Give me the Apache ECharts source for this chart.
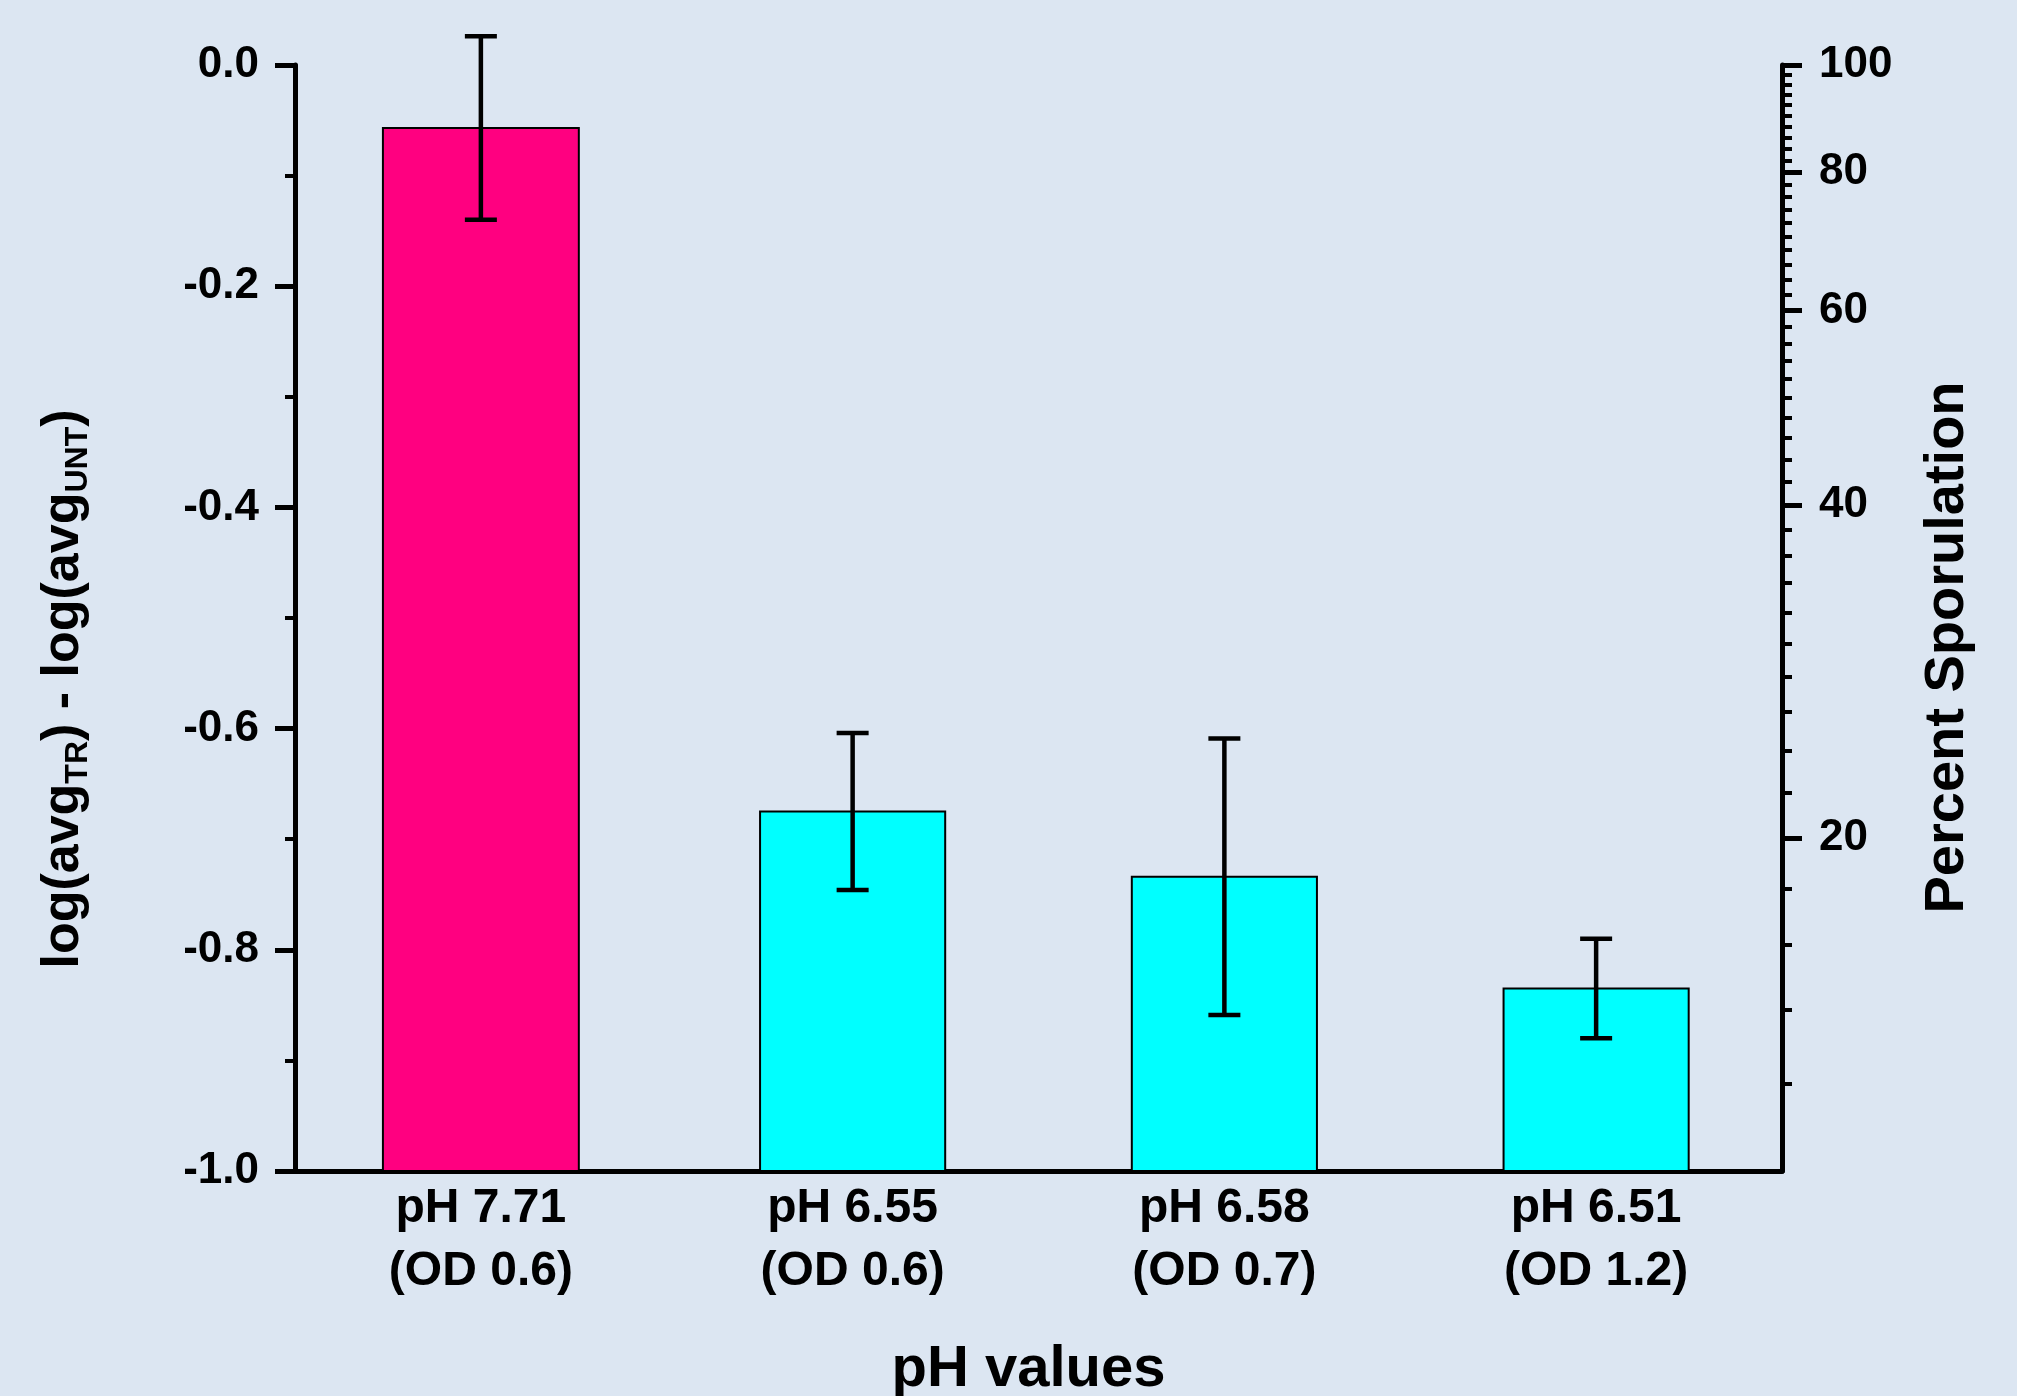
<!DOCTYPE html>
<html>
<head>
<meta charset="utf-8">
<script src="https://cdn.jsdelivr.net/npm/echarts@6/dist/echarts.min.js"></script>
<style>
  html, body { margin: 0; padding: 0; background: #DCE6F2; }
  #chart { width: 2017px; height: 1396px; }
</style>
</head>
<body>
<div id="chart"></div>
<script>
// Growth conditions on the x axis
const categories = [
  'pH 7.71\n(OD 0.6)',
  'pH 6.55\n(OD 0.6)',
  'pH 6.58\n(OD 0.7)',
  'pH 6.51\n(OD 1.2)'
];

// log(avg_TR) - log(avg_UNT) per condition, with its error
const logRatio = [-0.057, -0.675, -0.734, -0.835];
const logRatioErr = [0.083, 0.071, 0.125, 0.045];

// Left axis range and step
const leftMin = -1.0;
const leftMax = 0.0;
const leftStep = 0.2;

// Right axis (Percent Sporulation, log scale)
const sporMin = 10;
const sporMax = 100;
const sporMajorTicks = [20, 40, 60, 80, 100];
const sporMinorTicks = [12, 14, 16, 18, 22, 24, 26, 28, 30, 32, 34, 36, 38,
  42, 44, 46, 48, 50, 52, 54, 56, 58, 62, 64, 66, 68, 70, 72, 74, 76, 78,
  82, 84, 86, 88, 90, 92, 94, 96, 98];

const FONT = "'Liberation Sans', Arial, Helvetica, sans-serif";
const PINK = '#FF0080';
const CYAN = '#00FFFF';
const INK = '#000000';

const barData = logRatio.map((v, i) => [i, v]);
const errData = logRatio.map((v, i) => [i, v - logRatioErr[i], v + logRatioErr[i]]);

// Bars rise from the bottom of the left axis to their value
function renderBar(params, api) {
  const i = api.value(0);
  const v = api.value(1);
  const top = api.coord([i, v]);
  const base = api.coord([i, leftMin]);
  const band = api.size([1, 0])[0];
  const first = params.dataIndex === 0;
  const w = band * (first ? 0.527 : 0.498);
  return {
    type: 'rect',
    shape: { x: top[0] - w / 2, y: top[1], width: w, height: base[1] - top[1] },
    style: { fill: first ? PINK : CYAN, stroke: INK, lineWidth: 2 }
  };
}

// Capped error bars centred on each bar
function renderErr(params, api) {
  const i = api.value(0);
  const lo = api.coord([i, api.value(1)]);
  const hi = api.coord([i, api.value(2)]);
  const cap = 16;
  const st = { stroke: INK, lineWidth: 4.5 };
  return {
    type: 'group',
    children: [
      { type: 'line', shape: { x1: hi[0], y1: hi[1], x2: lo[0], y2: lo[1] }, style: st },
      { type: 'line', shape: { x1: hi[0] - cap, y1: hi[1], x2: hi[0] + cap, y2: hi[1] }, style: st },
      { type: 'line', shape: { x1: lo[0] - cap, y1: lo[1], x2: lo[0] + cap, y2: lo[1] }, style: st }
    ]
  };
}

const chart = echarts.init(document.getElementById('chart'), null, { renderer: 'canvas' });

chart.setOption({
  backgroundColor: '#DCE6F2',
  animation: false,
  grid: { left: 295, right: 235, top: 65, bottom: 225, containLabel: false, outerBoundsMode: 'none' },
  xAxis: {
    type: 'category',
    data: categories,
    boundaryGap: true,
    axisLine: { show: true, onZero: false, lineStyle: { color: INK, width: 5 } },
    axisTick: { show: false },
    axisLabel: {
      interval: 0, margin: 6, color: INK, fontFamily: FONT, fontWeight: 'bold',
      fontSize: 48, lineHeight: 63
    },
    splitLine: { show: false },
    name: 'pH values',
    nameLocation: 'middle',
    nameGap: 169,
    nameTextStyle: {
      color: INK, fontFamily: FONT, fontWeight: 'bold', fontSize: 58, lineHeight: 60,
      padding: [0, 20, 0, 0]
    }
  },
  yAxis: [
    {
      type: 'value',
      position: 'left',
      min: leftMin,
      max: leftMax,
      interval: leftStep,
      axisLine: { show: true, onZero: false, lineStyle: { color: INK, width: 5 } },
      axisTick: { show: true, inside: false, length: 20, lineStyle: { color: INK, width: 5 } },
      minorTick: { show: true, splitNumber: 2, length: 10, lineStyle: { color: INK, width: 4 } },
      axisLabel: {
        margin: 36, color: INK, fontFamily: FONT, fontWeight: 'bold', fontSize: 44,
        formatter: v => v.toFixed(1)
      },
      splitLine: { show: false },
      minorSplitLine: { show: false },
      name: '{m|log(avg}{s|TR}{m|) - log(avg}{s|UNT}{m|)}',
      nameLocation: 'middle',
      nameGap: 201,
      nameTextStyle: {
        padding: [0, 142, 0, 0],
        rich: {
          m: { color: INK, fontFamily: FONT, fontWeight: 'bold', fontSize: 52, lineHeight: 60 },
          s: { color: INK, fontFamily: FONT, fontWeight: 'bold', fontSize: 32, lineHeight: 30, verticalAlign: 'bottom' }
        }
      }
    },
    {
      type: 'log',
      logBase: 10,
      position: 'right',
      min: sporMin,
      max: sporMax,
      axisLine: { show: true, onZero: false, lineStyle: { color: INK, width: 5 } },
      axisTick: { show: true, inside: false, length: 20, customValues: sporMajorTicks, lineStyle: { color: INK, width: 5 } },
      minorTick: { show: false },
      axisLabel: {
        margin: 37, color: INK, fontFamily: FONT, fontWeight: 'bold', fontSize: 44,
        customValues: sporMajorTicks
      },
      splitLine: { show: false },
      name: 'Percent Sporulation',
      nameLocation: 'middle',
      nameGap: 136,
      nameTextStyle: {
        color: INK, fontFamily: FONT, fontWeight: 'bold', fontSize: 56, lineHeight: 60,
        padding: [0, 59, 0, 0]
      }
    },
    {
      type: 'log',
      logBase: 10,
      position: 'right',
      min: sporMin,
      max: sporMax,
      axisLine: { show: false },
      axisTick: { show: true, inside: false, length: 10, customValues: sporMinorTicks, lineStyle: { color: INK, width: 4 } },
      minorTick: { show: false },
      axisLabel: { show: false },
      splitLine: { show: false }
    }
  ],
  series: [
    {
      type: 'custom',
      name: 'log ratio',
      xAxisIndex: 0,
      yAxisIndex: 0,
      clip: false,
      renderItem: renderBar,
      encode: { x: 0, y: 1 },
      data: barData,
      z: 2
    },
    {
      type: 'custom',
      name: 'error',
      xAxisIndex: 0,
      yAxisIndex: 0,
      clip: false,
      renderItem: renderErr,
      encode: { x: 0, y: [1, 2] },
      data: errData,
      z: 3
    }
  ]
});
</script>
</body>
</html>
